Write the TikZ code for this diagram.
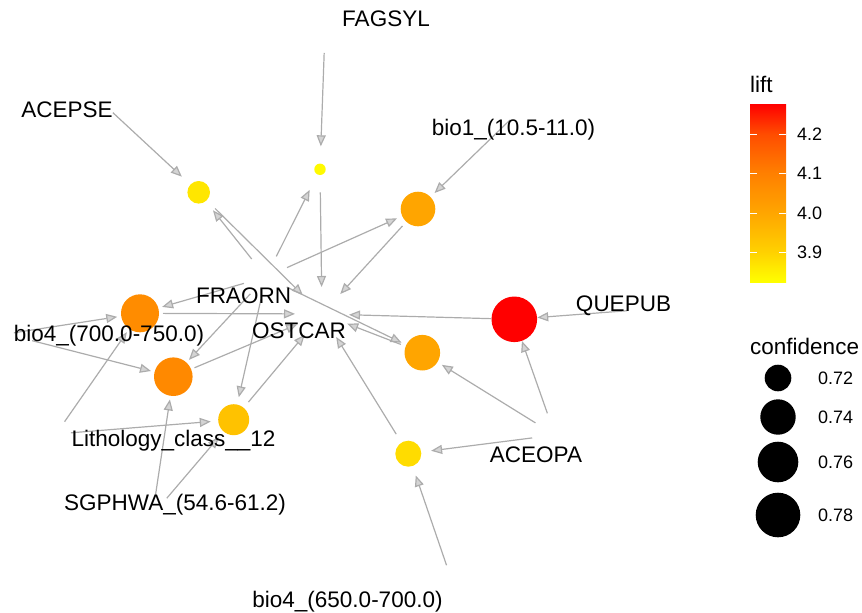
\documentclass[tikz,border=0pt]{standalone}
\usepackage{fontspec}
\setmainfont{Liberation Sans}
\usetikzlibrary{arrows.meta}
\definecolor{edgegray}{RGB}{172,172,172}
\definecolor{arrowfill}{RGB}{212,212,212}
\definecolor{rca}{RGB}{255,230,0}
\definecolor{rcb}{RGB}{255,250,0}
\definecolor{rcc}{RGB}{255,165,0}
\definecolor{rcd}{RGB}{255,140,0}
\definecolor{rce}{RGB}{255,137,0}
\definecolor{rcf}{RGB}{255,194,0}
\definecolor{rcg}{RGB}{255,0,0}
\definecolor{rch}{RGB}{255,165,0}
\definecolor{rci}{RGB}{255,220,0}
\pgfdeclareverticalshading{liftbar}{100bp}{rgb(0bp)=(1,1,0); rgb(25bp)=(1,1,0); rgb(33.43bp)=(1,0.82,0); rgb(44.38bp)=(1,0.65,0); rgb(55.62bp)=(1,0.5,0); rgb(66.57bp)=(1,0.3,0); rgb(75bp)=(1,0,0); rgb(100bp)=(1,0,0)}
\tikzset{
  edge/.style={draw=edgegray, line width=1.2pt,
    -{Triangle[length=11pt,width=9pt,fill=arrowfill]},
    shorten <=23pt, shorten >=23pt},
  toost/.style={shorten >=27pt},
  rule/.style={circle, inner sep=0pt, outer sep=0pt, draw=none},
  lbl/.style={inner sep=0pt, anchor=base, font=\fontsize{22.5}{27}\selectfont},
  ticklbl/.style={inner sep=0pt, anchor=west, font=\fontsize{18}{21}\selectfont},
  lgdot/.style={circle, fill=black, inner sep=0pt, draw=none}
}
\begin{document}
\begin{tikzpicture}[x=1pt,y=-1pt]
\useasboundingbox (0,0) rectangle (862,613);
% item positions
\coordinate (acepse) at (96,97);
\coordinate (fagsyl) at (325,30);
\coordinate (bioa) at (526.5,104);
\coordinate (fraorn) at (266,277);
\coordinate (ostcar) at (322,314);
\coordinate (quepub) at (650,309);
\coordinate (biob) at (6,334);
\coordinate (litho) at (56,434);
\coordinate (sgphwa) at (152.5,515);
\coordinate (aceopa) at (555,435);
\coordinate (bioc) at (454,587);
% rule positions
\coordinate (pa) at (198.7,192.3);
\coordinate (pb) at (320,169.3);
\coordinate (pc) at (418,209);
\coordinate (pd) at (140,313.3);
\coordinate (pe) at (173.3,376.7);
\coordinate (pf) at (233.7,419.7);
\coordinate (pg) at (514.3,319.3);
\coordinate (ph) at (422.3,352.7);
\coordinate (pi) at (408.3,453.7);
% edges
\draw[edge] (acepse) -- (pa);
\draw[edge] (fraorn) -- (pa);
\draw[edge,toost] (pa) -- (ostcar);
\draw[edge] (fagsyl) -- (pb);
\draw[edge] (fraorn) -- (pb);
\draw[edge,toost] (pb) -- (ostcar);
\draw[edge] (bioa) -- (pc);
\draw[edge] (fraorn) -- (pc);
\draw[edge,toost] (pc) -- (ostcar);
\draw[edge,shorten <=8pt] (biob) -- (pd);
\draw[edge] (fraorn) -- (pd);
\draw[edge,shorten <=15pt] (litho) -- (pd);
\draw[edge,toost] (pd) -- (ostcar);
\draw[edge,shorten <=27pt] (biob) -- (pe);
\draw[edge] (fraorn) -- (pe);
\draw[edge,shorten <=18pt] (sgphwa) -- (pe);
\draw[edge,toost] (pe) -- (ostcar);
\draw[edge] (fraorn) -- (pf);
\draw[edge,shorten <=15pt] (litho) -- (pf);
\draw[edge,shorten <=22pt] (sgphwa) -- (pf);
\draw[edge,toost] (pf) -- (ostcar);
\draw[edge] (quepub) -- (pg);
\draw[edge] (aceopa) -- (pg);
\draw[edge,toost] (pg) -- (ostcar);
\draw[edge] (fraorn) -- (ph);
\draw[edge] (aceopa) -- (ph);
\draw[edge,toost] (ph) -- (ostcar);
\draw[edge] (aceopa) -- (pi);
\draw[edge] (bioc) -- (pi);
\draw[edge,toost] (pi) -- (ostcar);
% rule circles
\node[rule, fill=rca, minimum size=22.6pt] (ra) at (pa) {};
\node[rule, fill=rcb, minimum size=11.4pt] (rb) at (pb) {};
\node[rule, fill=rcc, minimum size=34.6pt] (rc) at (pc) {};
\node[rule, fill=rcd, minimum size=38pt] (rd) at (pd) {};
\node[rule, fill=rce, minimum size=38.6pt] (re) at (pe) {};
\node[rule, fill=rcf, minimum size=31pt] (rf) at (pf) {};
\node[rule, fill=rcg, minimum size=45.6pt] (rg) at (pg) {};
\node[rule, fill=rch, minimum size=35.6pt] (rh) at (ph) {};
\node[rule, fill=rci, minimum size=26pt] (ri) at (pi) {};
% labels
\node[lbl] (lacepse) at (67,117) {ACEPSE};
\node[lbl] (lfagsyl) at (386,27) {FAGSYL};
\node[lbl] (lbioa) at (513.5,135.5) {bio1\_(10.5-11.0)};
\node[lbl] (lfraorn) at (243.5,303) {FRAORN};
\node[lbl] (lostcar) at (299,338) {OSTCAR};
\node[lbl] (lquepub) at (623.5,311) {QUEPUB};
\node[lbl] (lbiob) at (109,341) {bio4\_(700.0-750.0)};
\node[lbl] (llitho) at (173.5,446) {Lithology\_class\_\_12};
\node[lbl] (lsgphwa) at (175,510.5) {SGPHWA\_(54.6-61.2)};
\node[lbl] (laceopa) at (536,462) {ACEOPA};
\node[lbl] (lbioc) at (347.5,607.5) {bio4\_(650.0-700.0)};
% legend: lift
\node[lbl, anchor=base west] (lifttitle) at (750,92) {lift};
\shade[shading=liftbar] (750,104) rectangle (786,282);
\foreach \ty/\tl in {134/4.2,173/4.1,213/4.0,252/3.9}{
  \draw[white, line width=0.9pt] (750,\ty) -- (757,\ty);
  \draw[white, line width=0.9pt] (779,\ty) -- (786,\ty);
  \node[ticklbl] at (797,\ty) {\tl};
}
% legend: confidence
\node[lbl, anchor=base west] (conftitle) at (750,354) {confidence};
\node[lgdot, minimum size=26.6pt] (ca) at (778,378) {};
\node[lgdot, minimum size=35.4pt] (cb) at (778,417) {};
\node[lgdot, minimum size=40.6pt] (cc) at (778,462) {};
\node[lgdot, minimum size=44.6pt] (cd) at (778,515) {};
\node[ticklbl] at (818,378) {0.72};
\node[ticklbl] at (818,417) {0.74};
\node[ticklbl] at (818,462) {0.76};
\node[ticklbl] at (818,515) {0.78};
\end{tikzpicture}
\end{document}
